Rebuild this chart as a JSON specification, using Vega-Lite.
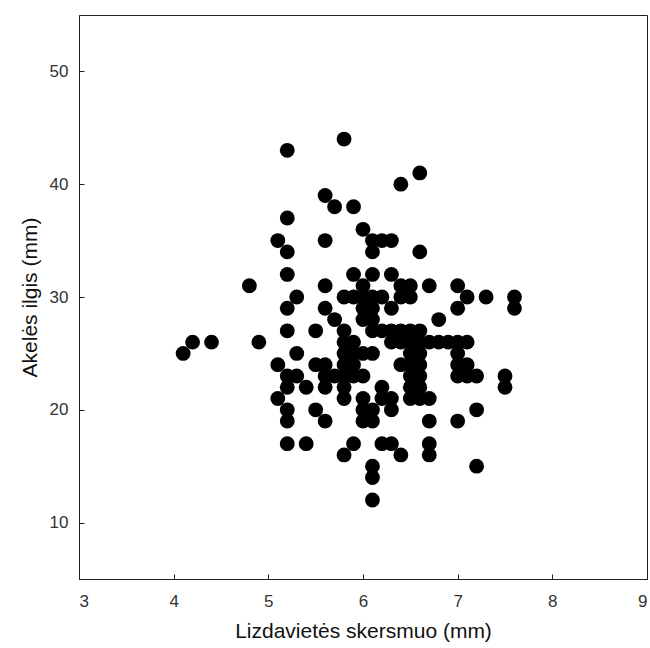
{
  "$schema": "https://vega.github.io/schema/vega-lite/v6.json",
  "autosize": "none",
  "width": 568,
  "height": 564,
  "padding": {"left": 79, "top": 15, "right": 3, "bottom": 69},
  "background": "white",
  "config": {
    "view": {"stroke": "#222", "strokeWidth": 1},
    "font": "Liberation Sans"
  },
  "data": {
    "values": [
      {"d": 4.1, "l": 25}, {"d": 4.2, "l": 26}, {"d": 4.4, "l": 26}, {"d": 4.8, "l": 31}, {"d": 4.9, "l": 26},
      {"d": 5.1, "l": 35}, {"d": 5.1, "l": 24}, {"d": 5.1, "l": 21},
      {"d": 5.2, "l": 43}, {"d": 5.2, "l": 37}, {"d": 5.2, "l": 34}, {"d": 5.2, "l": 32}, {"d": 5.2, "l": 29}, {"d": 5.2, "l": 27}, {"d": 5.2, "l": 23}, {"d": 5.2, "l": 22}, {"d": 5.2, "l": 20}, {"d": 5.2, "l": 19}, {"d": 5.2, "l": 17},
      {"d": 5.3, "l": 30}, {"d": 5.3, "l": 25}, {"d": 5.3, "l": 23},
      {"d": 5.4, "l": 22}, {"d": 5.4, "l": 17},
      {"d": 5.5, "l": 27}, {"d": 5.5, "l": 24}, {"d": 5.5, "l": 20},
      {"d": 5.6, "l": 39}, {"d": 5.6, "l": 35}, {"d": 5.6, "l": 31}, {"d": 5.6, "l": 29}, {"d": 5.6, "l": 24}, {"d": 5.6, "l": 23}, {"d": 5.6, "l": 22}, {"d": 5.6, "l": 19},
      {"d": 5.7, "l": 38}, {"d": 5.7, "l": 28}, {"d": 5.7, "l": 23},
      {"d": 5.8, "l": 44}, {"d": 5.8, "l": 30}, {"d": 5.8, "l": 27}, {"d": 5.8, "l": 26}, {"d": 5.8, "l": 25}, {"d": 5.8, "l": 24}, {"d": 5.8, "l": 23}, {"d": 5.8, "l": 22}, {"d": 5.8, "l": 21}, {"d": 5.8, "l": 16},
      {"d": 5.9, "l": 38}, {"d": 5.9, "l": 32}, {"d": 5.9, "l": 30}, {"d": 5.9, "l": 26}, {"d": 5.9, "l": 25}, {"d": 5.9, "l": 24}, {"d": 5.9, "l": 23}, {"d": 5.9, "l": 17},
      {"d": 6.0, "l": 36}, {"d": 6.0, "l": 31}, {"d": 6.0, "l": 30}, {"d": 6.0, "l": 29}, {"d": 6.0, "l": 28}, {"d": 6.0, "l": 25}, {"d": 6.0, "l": 23}, {"d": 6.0, "l": 21}, {"d": 6.0, "l": 20}, {"d": 6.0, "l": 19},
      {"d": 6.1, "l": 35}, {"d": 6.1, "l": 34}, {"d": 6.1, "l": 32}, {"d": 6.1, "l": 30}, {"d": 6.1, "l": 29}, {"d": 6.1, "l": 28}, {"d": 6.1, "l": 27}, {"d": 6.1, "l": 25}, {"d": 6.1, "l": 20}, {"d": 6.1, "l": 19}, {"d": 6.1, "l": 15}, {"d": 6.1, "l": 14}, {"d": 6.1, "l": 12},
      {"d": 6.2, "l": 35}, {"d": 6.2, "l": 30}, {"d": 6.2, "l": 27}, {"d": 6.2, "l": 22}, {"d": 6.2, "l": 21}, {"d": 6.2, "l": 17},
      {"d": 6.3, "l": 35}, {"d": 6.3, "l": 32}, {"d": 6.3, "l": 29}, {"d": 6.3, "l": 27}, {"d": 6.3, "l": 26}, {"d": 6.3, "l": 21}, {"d": 6.3, "l": 20}, {"d": 6.3, "l": 17},
      {"d": 6.4, "l": 40}, {"d": 6.4, "l": 31}, {"d": 6.4, "l": 30}, {"d": 6.4, "l": 27}, {"d": 6.4, "l": 26}, {"d": 6.4, "l": 24}, {"d": 6.4, "l": 16},
      {"d": 6.5, "l": 31}, {"d": 6.5, "l": 30}, {"d": 6.5, "l": 27}, {"d": 6.5, "l": 26}, {"d": 6.5, "l": 25}, {"d": 6.5, "l": 24}, {"d": 6.5, "l": 23}, {"d": 6.5, "l": 22}, {"d": 6.5, "l": 21},
      {"d": 6.6, "l": 41}, {"d": 6.6, "l": 34}, {"d": 6.6, "l": 27}, {"d": 6.6, "l": 26}, {"d": 6.6, "l": 25}, {"d": 6.6, "l": 24}, {"d": 6.6, "l": 23}, {"d": 6.6, "l": 22}, {"d": 6.6, "l": 21},
      {"d": 6.7, "l": 31}, {"d": 6.7, "l": 26}, {"d": 6.7, "l": 21}, {"d": 6.7, "l": 19}, {"d": 6.7, "l": 17}, {"d": 6.7, "l": 16},
      {"d": 6.8, "l": 28}, {"d": 6.8, "l": 26},
      {"d": 6.9, "l": 26},
      {"d": 7.0, "l": 31}, {"d": 7.0, "l": 29}, {"d": 7.0, "l": 26}, {"d": 7.0, "l": 25}, {"d": 7.0, "l": 24}, {"d": 7.0, "l": 23}, {"d": 7.0, "l": 19},
      {"d": 7.1, "l": 30}, {"d": 7.1, "l": 26}, {"d": 7.1, "l": 24}, {"d": 7.1, "l": 23},
      {"d": 7.2, "l": 23}, {"d": 7.2, "l": 20}, {"d": 7.2, "l": 15},
      {"d": 7.3, "l": 30},
      {"d": 7.5, "l": 23}, {"d": 7.5, "l": 22},
      {"d": 7.6, "l": 30}, {"d": 7.6, "l": 29}
    ]
  },
  "mark": {"type": "circle", "color": "black", "opacity": 1, "size": 220},
  "encoding": {
    "x": {
      "field": "d", "type": "quantitative",
      "scale": {"domain": [3, 9], "nice": false, "zero": false},
      "axis": {
        "title": "Lizdavietės skersmuo (mm)",
        "values": [3, 4, 5, 6, 7, 8, 9],
        "grid": false,
        "tickSize": -5, "tickColor": "#222", "domainColor": "#222",
        "labelPadding": 19, "labelFontSize": 17, "labelColor": "#333", "labelFont": "Liberation Sans",
        "titleFontSize": 21, "titleFontWeight": "normal", "titleColor": "#111", "titleFont": "Liberation Sans",
        "titlePadding": 11
      }
    },
    "y": {
      "field": "l", "type": "quantitative",
      "scale": {"domain": [5, 55], "nice": false, "zero": false},
      "axis": {
        "title": "Akelės ilgis (mm)",
        "values": [10, 20, 30, 40, 50],
        "grid": false,
        "tickSize": -5, "tickColor": "#222", "domainColor": "#222",
        "labelPadding": 16, "labelFontSize": 17, "labelColor": "#333", "labelFont": "Liberation Sans",
        "titleFontSize": 21, "titleFontWeight": "normal", "titleColor": "#111", "titleFont": "Liberation Sans",
        "titlePadding": 9
      }
    }
  }
}
